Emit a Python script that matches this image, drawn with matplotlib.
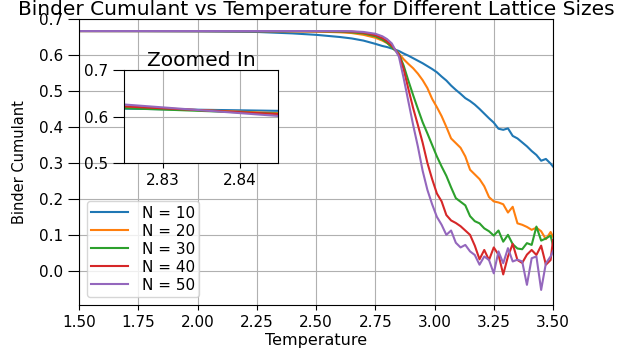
import matplotlib
matplotlib.use('Agg')
import matplotlib.pyplot as plt

# temperature grid (coarse in the flat part, finer after the crossing)
temps = [1.50, 1.75, 2.00, 2.25, 2.40, 2.50, 2.60, 2.65, 2.70, 2.75, 2.78, 2.80, 2.82, 2.85,
         2.87, 2.89, 2.91, 2.93, 2.95, 2.97, 2.99, 3.01, 3.03, 3.05, 3.07, 3.09, 3.11, 3.13,
         3.15, 3.17, 3.19, 3.21, 3.23, 3.25, 3.27, 3.29, 3.31, 3.33, 3.35, 3.37, 3.39, 3.41,
         3.43, 3.45, 3.47, 3.49, 3.50]

binder_10 = [0.6665, 0.6662, 0.6655, 0.664, 0.660, 0.656, 0.650, 0.646, 0.640, 0.631, 0.625, 0.622, 0.618, 0.611,
             0.604, 0.598, 0.591, 0.584, 0.577, 0.569, 0.561, 0.552, 0.540, 0.529, 0.515, 0.503, 0.492, 0.480,
             0.472, 0.462, 0.450, 0.437, 0.424, 0.412, 0.395, 0.392, 0.396, 0.375, 0.368, 0.357, 0.346, 0.333,
             0.322, 0.306, 0.311, 0.298, 0.290]
binder_20 = [0.6665, 0.6665, 0.6663, 0.666, 0.6655, 0.665, 0.663, 0.661, 0.656, 0.648, 0.640, 0.633, 0.623, 0.604,
             0.588, 0.575, 0.563, 0.548, 0.530, 0.508, 0.478, 0.455, 0.430, 0.400, 0.368, 0.355, 0.342, 0.318,
             0.281, 0.268, 0.255, 0.235, 0.205, 0.193, 0.190, 0.185, 0.162, 0.178, 0.132, 0.128, 0.122, 0.114,
             0.120, 0.110, 0.088, 0.108, 0.095]
binder_30 = [0.6665, 0.6665, 0.6665, 0.6665, 0.6663, 0.666, 0.665, 0.663, 0.660, 0.652, 0.643, 0.634, 0.621, 0.603,
             0.570, 0.528, 0.488, 0.450, 0.413, 0.382, 0.350, 0.318, 0.290, 0.264, 0.232, 0.202, 0.192, 0.182,
             0.152, 0.138, 0.132, 0.118, 0.110, 0.098, 0.112, 0.081, 0.100, 0.074, 0.062, 0.060, 0.077, 0.072,
             0.123, 0.084, 0.090, 0.098, 0.070]
binder_40 = [0.6665, 0.6665, 0.6665, 0.6665, 0.6665, 0.666, 0.666, 0.665, 0.662, 0.655, 0.647, 0.638, 0.626, 0.601,
             0.560, 0.505, 0.452, 0.405, 0.356, 0.300, 0.255, 0.215, 0.193, 0.155, 0.140, 0.133, 0.124, 0.112,
             0.100, 0.070, 0.032, 0.058, 0.030, 0.065, 0.045, -0.010, 0.040, 0.075, 0.030, 0.022, 0.045, 0.058,
             0.044, 0.070, 0.017, 0.030, 0.086]
binder_50 = [0.6665, 0.6665, 0.6665, 0.6665, 0.6665, 0.6665, 0.6665, 0.666, 0.664, 0.659, 0.652, 0.644, 0.632, 0.595,
             0.535, 0.470, 0.405, 0.345, 0.278, 0.225, 0.185, 0.150, 0.128, 0.100, 0.112, 0.078, 0.065, 0.072,
             0.054, 0.044, 0.017, 0.040, 0.030, -0.007, 0.054, 0.021, 0.063, 0.026, 0.031, 0.026, -0.039, 0.035,
             0.040, -0.053, 0.021, 0.040, 0.054]

sizes = [10, 20, 30, 40, 50]
series = [binder_10, binder_20, binder_30, binder_40, binder_50]

fig = plt.figure(figsize=(6.28, 3.54), dpi=100)
ax = fig.add_axes([79 / 628, 49 / 354, 474 / 628, 286 / 354])

for n, vals in zip(sizes, series):
    ax.plot(temps, vals, label='N = %d' % n)

ax.set_xlim(1.5, 3.5)
ax.set_ylim(-0.095, 0.70)
ax.set_xticks([1.5, 1.75, 2.0, 2.25, 2.5, 2.75, 3.0, 3.25, 3.5])
ax.set_xticklabels(['1.50', '1.75', '2.00', '2.25', '2.50', '2.75', '3.00', '3.25', '3.50'])
ax.tick_params(labelsize=11)
ax.tick_params(axis='y', length=8)
ax.set_xlabel('Temperature', fontsize=11.5, labelpad=2)
ax.set_ylabel('Binder Cumulant', fontsize=10.5)
ax.yaxis.set_label_coords(-0.11, 0.5)
ax.set_title('Binder Cumulant vs Temperature for Different Lattice Sizes', fontsize=14.5, pad=2.5)
ax.grid(True)
ax.legend(loc='lower left', fontsize=11, labelspacing=0.2, borderpad=0.3,
          handlelength=2.4, handletextpad=0.9)

# inset around the crossing point
axin = fig.add_axes([124 / 628, 191 / 354, 154 / 628, 93 / 354])
for vals in series:
    axin.plot(temps, vals)
axin.set_xlim(2.825, 2.845)
axin.set_ylim(0.5, 0.7)
axin.set_xticks([2.83, 2.84])
axin.set_yticks([0.5, 0.6, 0.7])
axin.tick_params(labelsize=11)
axin.tick_params(axis='y', length=8)
axin.set_title('Zoomed In', fontsize=14.5, pad=3)
axin.grid(True)

fig.savefig('out.png', dpi=100)
